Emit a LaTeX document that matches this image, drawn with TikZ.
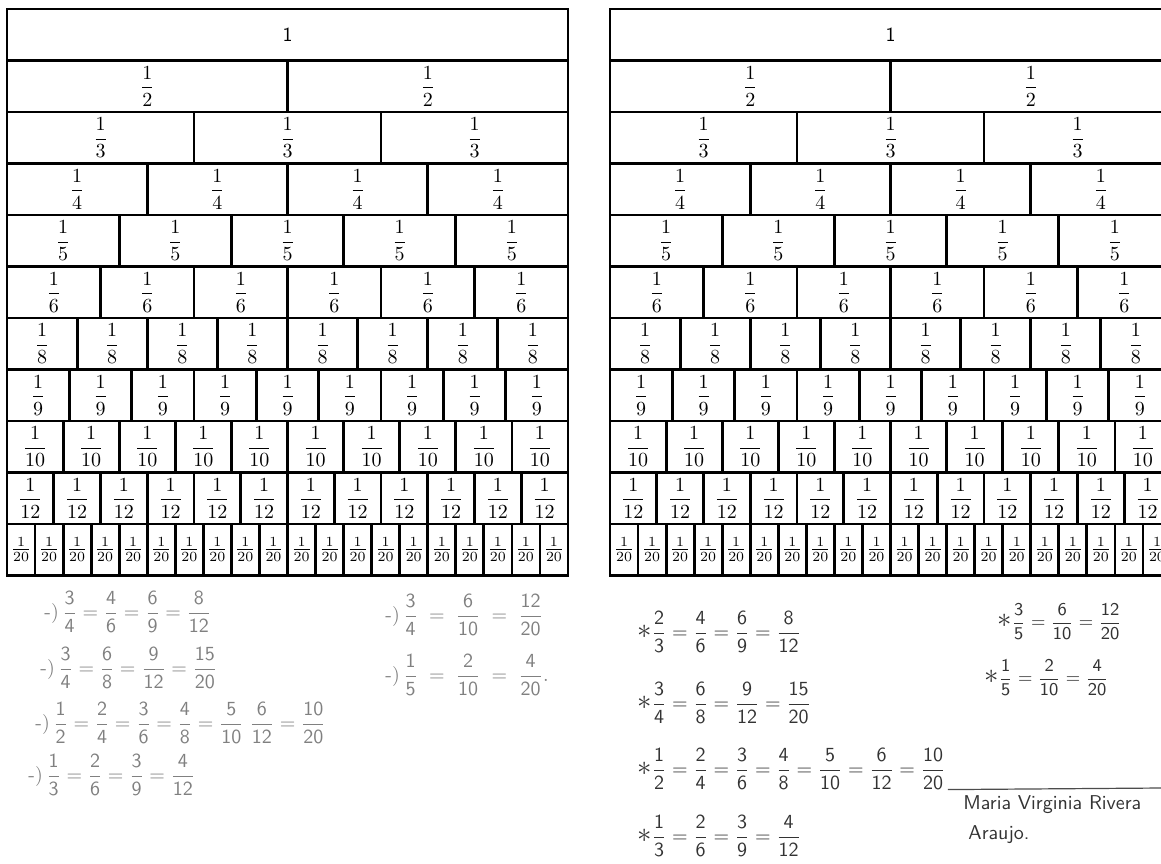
\documentclass[tikz,border=0pt]{standalone}
\usepackage{amsmath,amssymb}
\usepackage{xcolor}
\usepackage{tikz}
\usetikzlibrary{positioning,calc}
\tikzset{
    celula/.style={
        draw,
        line width=1.4pt
    },
    rotulo/.style={inner sep=0pt, font=\normalsize},
    lapis/.style={anchor=west, inner sep=0pt, text=black!50},
    caneta/.style={anchor=west, inner sep=0pt, text=black!80},
    assinatura/.style={caneta, font=\sffamily}
}
\newcommand{\hfrac}[2]{\dfrac{\mathsf{#1}}{\mathsf{#2}}}
\newcommand{\estrela}{{\Large$\ast$}}
% muro de fracoes: #1 = x da esquerda, #2 = prefixo dos nomes
\newcommand{\muro}[2]{%
    \foreach \n [count=\r] in {1,2,3,4,5,6,8,9,10,12,20}{
        \pgfmathsetmacro{\yt}{9+(\r-1)*51.5}
        \pgfmathsetmacro{\yb}{\yt+51.5}
        \pgfmathsetmacro{\w}{561/\n}
        \foreach \i in {1,...,\n}{
            \pgfmathsetmacro{\xa}{#1+(\i-1)*\w}
            \pgfmathsetmacro{\xb}{\xa+\w}
            \draw[celula] (\xa,\yt) rectangle (\xb,\yb);
            \node[rotulo] (#2-\n-\i) at ({(\xa+\xb)/2},{(\yt+\yb)/2})
            {\ifnum\n=1 \sffamily 1\else\ifnum\n=20 $\frac{1}{20}$\else$\dfrac{1}{\n}$\fi\fi};
        }
    }%
}

\begin{document}
\begin{tikzpicture}[x=0.5pt, y=-0.5pt]

    \path[fill=white, use as bounding box] (0,0) rectangle (1161,863);

    \muro{7}{esq}
    \muro{610}{dir}

    % folha da esquerda (lapis)
    \node[lapis] (e1) at (44,612)
    {-)\,$\hfrac{3}{4}=\hfrac{4}{6}=\hfrac{6}{9}=\hfrac{8}{12}$};
    \node[lapis] (e2) at (40,668)
    {-)\,$\hfrac{3}{4}=\hfrac{6}{8}=\hfrac{9}{12}=\hfrac{15}{20}$};
    \node[lapis] (e3) at (35,723)
    {-)\,$\hfrac{1}{2}=\hfrac{2}{4}=\hfrac{3}{6}=\hfrac{4}{8}=\hfrac{5}{10}\;\hfrac{6}{12}=\hfrac{10}{20}$};
    \node[lapis] (e4) at (28,775)
    {-)\,$\hfrac{1}{3}=\hfrac{2}{6}=\hfrac{3}{9}=\hfrac{4}{12}$};
    \node[lapis] (e5) at (385,615)
    {-)\,$\hfrac{3}{4}\;=\;\hfrac{6}{10}\;=\;\hfrac{12}{20}$};
    \node[lapis] (e6) at (385,675)
    {-)\,$\hfrac{1}{5}\;=\;\hfrac{2}{10}\;=\;\hfrac{4}{20}$.};

    % folha da direita (caneta)
    \node[caneta] (d1) at (637,632)
    {\estrela$\hfrac{2}{3}=\hfrac{4}{6}=\hfrac{6}{9}=\hfrac{8}{12}$};
    \node[caneta] (d2) at (637,703)
    {\estrela$\hfrac{3}{4}=\hfrac{6}{8}=\hfrac{9}{12}=\hfrac{15}{20}$};
    \node[caneta] (d3) at (637,769)
    {\estrela$\hfrac{1}{2}=\hfrac{2}{4}=\hfrac{3}{6}=\hfrac{4}{8}=\hfrac{5}{10}=\hfrac{6}{12}=\hfrac{10}{20}$};
    \node[caneta] (d4) at (637,836)
    {\estrela$\hfrac{1}{3}=\hfrac{2}{6}=\hfrac{3}{9}=\hfrac{4}{12}$};
    \node[caneta, font=\small] (d5) at (997,622)
    {\estrela$\hfrac{3}{5}=\hfrac{6}{10}=\hfrac{12}{20}$};
    \node[caneta, font=\small] (d6) at (984,678)
    {\estrela$\hfrac{1}{5}=\hfrac{2}{10}=\hfrac{4}{20}$};

    \coordinate (fimlinha) at (1161,788);
    \draw[black!70, line width=0.6pt] (d3.south east) ++(2,0) -- (fimlinha);

    \node[assinatura] (nome) at (963,805) {Maria Virginia Rivera};
    \node[assinatura] (sobrenome) at (968,835) {Araujo.};

\end{tikzpicture}
\end{document}
